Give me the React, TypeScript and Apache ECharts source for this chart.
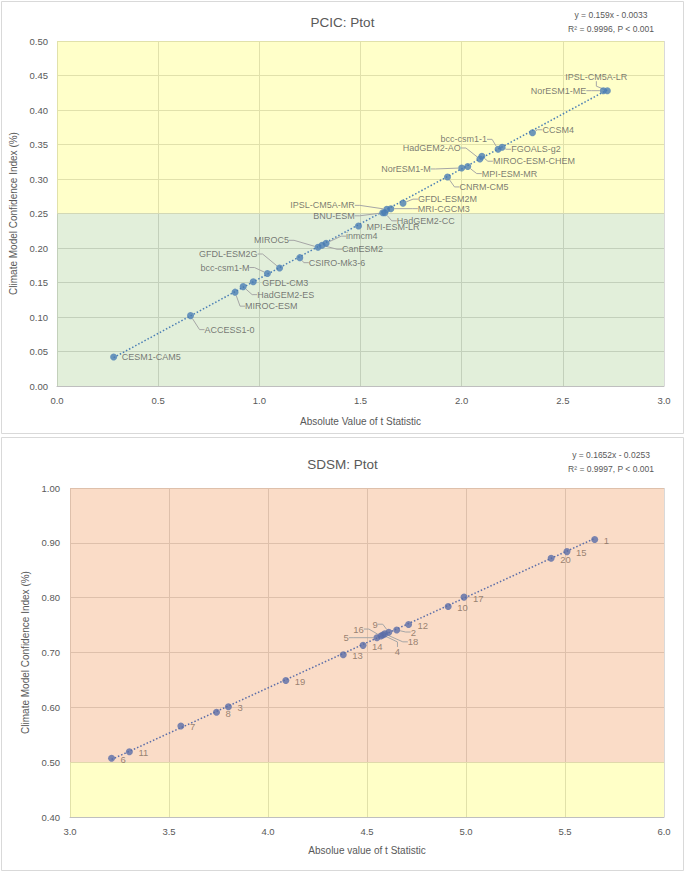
import React, { useEffect, useRef } from "react";
import * as echarts from "echarts";

// ---------- PCIC data ----------
const pcicModels = [
  "CESM1-CAM5", "ACCESS1-0", "MIROC-ESM", "HadGEM2-ES", "GFDL-CM3", "bcc-csm1-M",
  "GFDL-ESM2G", "CSIRO-Mk3-6", "MIROC5", "CanESM2", "inmcm4", "MPI-ESM-LR",
  "BNU-ESM", "HadGEM2-CC", "IPSL-CM5A-MR", "MRI-CGCM3", "GFDL-ESM2M", "CNRM-CM5",
  "NorESM1-M", "MPI-ESM-MR", "HadGEM2-AO", "MIROC-ESM-CHEM", "bcc-csm1-1", "FGOALS-g2",
  "CCSM4", "NorESM1-ME", "IPSL-CM5A-LR",
];
const pcicT = [
  0.28, 0.66, 0.88, 0.92, 0.97, 1.04,
  1.10, 1.20, 1.29, 1.31, 1.33, 1.49,
  1.61, 1.62, 1.63, 1.65, 1.71, 1.93,
  2.00, 2.03, 2.09, 2.10, 2.18, 2.20,
  2.35, 2.70, 2.72,
];
const pcicIndex = [
  0.042, 0.102, 0.136, 0.144, 0.151, 0.163,
  0.171, 0.186, 0.201, 0.204, 0.207, 0.232,
  0.251, 0.251, 0.256, 0.257, 0.265, 0.303,
  0.316, 0.318, 0.329, 0.333, 0.343, 0.346,
  0.367, 0.428, 0.428,
];
const pcicSlope = 0.159;
const pcicIntercept = -0.0033;
const pcicEquation = ["y = 0.159x - 0.0033", "R\u00B2 = 0.9996, P < 0.001"];
const pcicTitle = "PCIC: Ptot";
const pcicXName = "Absolute Value of t Statistic";

// ---------- SDSM data ----------
const sdsmIds = ["1", "2", "3", "4", "5", "6", "7", "8", "9", "10", "11", "12", "13", "14", "15", "16", "17", "18", "19", "20"];
const sdsmT = [5.65, 4.65, 3.80, 4.58, 4.55, 3.21, 3.56, 3.74, 4.61, 4.91, 3.30, 4.71, 4.38, 4.48, 5.51, 4.57, 4.99, 4.59, 4.09, 5.43];
const sdsmIndex = [0.906, 0.741, 0.601, 0.732, 0.727, 0.507, 0.566, 0.591, 0.737, 0.784, 0.519, 0.751, 0.696, 0.713, 0.884, 0.730, 0.801, 0.734, 0.649, 0.872];
const sdsmSlope = 0.1652;
const sdsmIntercept = -0.0253;
const sdsmEquation = ["y = 0.1652x - 0.0253", "R\u00B2 = 0.9997, P < 0.001"];
const sdsmTitle = "SDSM: Ptot";
const sdsmXName = "Absolue value of t Statistic";

const yName = "Climate Model Confidence Index (%)";

// ---------- label placement (pixel offsets from the point: dx, dy, align, leader line) ----------
type Place = [number, number, string, boolean];
const pcicPlace: Record<string, Place> = {
  "CESM1-CAM5": [8, 0, "left", false],
  "ACCESS1-0": [14, 14, "left", true],
  "MIROC-ESM": [10, 14, "left", true],
  "HadGEM2-ES": [14, 8, "left", true],
  "GFDL-CM3": [9, 1, "left", false],
  "bcc-csm1-M": [-18, -6, "right", true],
  "GFDL-ESM2G": [-22, -14, "right", true],
  "CSIRO-Mk3-6": [9, 5, "left", true],
  "MIROC5": [-29, -7, "right", true],
  "CanESM2": [20, 4, "left", true],
  "inmcm4": [20, -7, "left", true],
  "MPI-ESM-LR": [8, 1, "left", false],
  "BNU-ESM": [-28, 3, "right", true],
  "HadGEM2-CC": [12, 8, "left", true],
  "IPSL-CM5A-MR": [-32, -4, "right", true],
  "MRI-CGCM3": [27, 0, "left", true],
  "GFDL-ESM2M": [15, -4, "left", true],
  "CNRM-CM5": [12, 10, "left", true],
  "NorESM1-M": [-31, 1, "right", true],
  "MPI-ESM-MR": [14, 7, "left", true],
  "HadGEM2-AO": [-19, -11, "right", true],
  "MIROC-ESM-CHEM": [11, 5, "left", true],
  "bcc-csm1-1": [-11, -10, "right", true],
  "FGOALS-g2": [9, 2, "left", true],
  "CCSM4": [10, -3, "left", true],
  "NorESM1-ME": [-17, 0, "right", true],
  "IPSL-CM5A-LR": [-11, -14, "center", true],
};
const sdsmPlace: Record<string, Place> = {
  "2": [14, 2, "left", true],
  "4": [12, 17, "left", true],
  "5": [-28, 0, "right", true],
  "9": [-11, -8, "right", true],
  "16": [-17, -7, "right", true],
  "18": [23, 8, "left", true],
};
const sdsmDefaultPlace: Place = [9, 1, "left", false];

const FONT = "'Liberation Sans', Arial, sans-serif";
const TEXT = "#595959";

function buildPoints(xs: number[], ys: number[], names: string[], place: Record<string, Place>, def: Place) {
  return xs.map((x, i) => {
    const p = place[names[i]] || def;
    return { name: names[i], value: [x, ys[i]], labelLine: { show: p[3] } };
  });
}

function trend(xs: number[], slope: number, intercept: number) {
  const lo = Math.min(...xs);
  const hi = Math.max(...xs);
  return [[lo, slope * lo + intercept], [hi, slope * hi + intercept]];
}

function layoutFn(names: string[], place: Record<string, Place>, def: Place) {
  return (params: any) => {
    const p = place[names[params.dataIndex]] || def;
    const r = params.rect;
    return {
      x: r.x + r.width / 2 + p[0],
      y: r.y + r.height / 2 + p[1],
      align: p[2],
      verticalAlign: "middle",
    };
  };
}

export default function App() {
  const ref = useRef<HTMLDivElement>(null);
  useEffect(() => {
    document.body.style.margin = "0";
    const chart = echarts.init(ref.current!, null, { renderer: "svg" });

    const axisLabel = (digits: number) => ({
      color: TEXT,
      fontSize: 9.5,
      fontFamily: FONT,
      formatter: (v: number) => v.toFixed(digits),
    });
    const nameStyle = { color: TEXT, fontSize: 10, fontFamily: FONT };
    const titleStyle = { color: TEXT, fontSize: 13.5, fontWeight: "normal", fontFamily: FONT };
    const eqStyle = { align: "center", verticalAlign: "middle", fill: TEXT, fontSize: 8.5, fontFamily: FONT };

    const option: any = {
      animation: false,
      backgroundColor: "#ffffff",
      title: [
        { text: pcicTitle, left: "center", top: 10, textStyle: titleStyle },
        { text: sdsmTitle, left: "center", top: 452, textStyle: titleStyle },
      ],
      grid: [
        { left: 57, top: 41, width: 607, height: 345 },
        { left: 70, top: 488, width: 594, height: 329 },
      ],
      xAxis: [
        {
          gridIndex: 0, type: "value", min: 0, max: 3, interval: 0.5,
          axisLabel: { ...axisLabel(1), margin: 9 },
          axisLine: { show: true, lineStyle: { color: "#bfbfbf" } },
          axisTick: { show: false },
          splitLine: { show: true, lineStyle: { color: "#d9d9d9" } },
          name: pcicXName, nameLocation: "middle", nameGap: 30, nameTextStyle: nameStyle,
        },
        {
          gridIndex: 1, type: "value", min: 3, max: 6, interval: 0.5,
          axisLabel: { ...axisLabel(1), margin: 9 },
          axisLine: { show: true, lineStyle: { color: "#bfbfbf" } },
          axisTick: { show: false },
          splitLine: { show: true, lineStyle: { color: "#d9d9d9" } },
          name: sdsmXName, nameLocation: "middle", nameGap: 28, nameTextStyle: nameStyle,
        },
      ],
      yAxis: [
        {
          gridIndex: 0, type: "value", min: 0, max: 0.5, interval: 0.05,
          axisLabel: { ...axisLabel(2), margin: 9 },
          axisLine: { show: false },
          axisTick: { show: false },
          splitLine: { show: true, lineStyle: { color: "#d9d9d9" } },
          name: yName, nameLocation: "middle", nameGap: 33, nameTextStyle: nameStyle,
        },
        {
          gridIndex: 1, type: "value", min: 0.4, max: 1.0, interval: 0.1,
          axisLabel: { ...axisLabel(2), margin: 10 },
          axisLine: { show: false },
          axisTick: { show: false },
          splitLine: { show: true, lineStyle: { color: "#d9d9d9" } },
          name: yName, nameLocation: "middle", nameGap: 34, nameTextStyle: nameStyle,
        },
      ],
      graphic: [
        { type: "rect", silent: true, z: -1, shape: { x: 1.5, y: 1.5, width: 682, height: 432 }, style: { fill: "none", stroke: "#d9d9d9", lineWidth: 1 } },
        { type: "rect", silent: true, z: -1, shape: { x: 1.5, y: 437.5, width: 682, height: 433 }, style: { fill: "none", stroke: "#d9d9d9", lineWidth: 1 } },
        { type: "text", x: 611, y: 15, style: { ...eqStyle, text: pcicEquation[0] } },
        { type: "text", x: 611, y: 29, style: { ...eqStyle, text: pcicEquation[1] } },
        { type: "text", x: 611, y: 455, style: { ...eqStyle, text: sdsmEquation[0] } },
        { type: "text", x: 611, y: 469, style: { ...eqStyle, text: sdsmEquation[1] } },
      ],
      series: [
        {
          type: "line", xAxisIndex: 0, yAxisIndex: 0, silent: true,
          data: trend(pcicT, pcicSlope, pcicIntercept),
          showSymbol: false, symbol: "none",
          lineStyle: { color: "#4a7eb5", width: 1.5, type: [1.5, 2] },
          markArea: {
            silent: true,
            data: [
              [{ yAxis: 0.25, itemStyle: { color: "rgba(255,255,0,0.21)" } }, { yAxis: 0.5 }],
              [{ yAxis: 0, itemStyle: { color: "rgba(112,173,71,0.2)" } }, { yAxis: 0.25 }],
            ],
          },
          z: 1,
        },
        {
          type: "scatter", xAxisIndex: 0, yAxisIndex: 0,
          data: buildPoints(pcicT, pcicIndex, pcicModels, pcicPlace, [8, 0, "left", false]),
          symbol: "circle", symbolSize: 7,
          itemStyle: { color: "#4a7db4" },
          label: { show: true, formatter: "{b}", color: TEXT, fontSize: 9, fontFamily: FONT },
          labelLine: { show: true, length2: 5, lineStyle: { color: "#a6a6a6", width: 1 } },
          labelLayout: layoutFn(pcicModels, pcicPlace, [8, 0, "left", false]),
          z: 3,
        },
        {
          type: "line", xAxisIndex: 1, yAxisIndex: 1, silent: true,
          data: trend(sdsmT, sdsmSlope, sdsmIntercept),
          showSymbol: false, symbol: "none",
          lineStyle: { color: "#5a6da8", width: 1.5, type: [1.5, 2] },
          markArea: {
            silent: true,
            data: [
              [{ yAxis: 0.5, itemStyle: { color: "rgba(237,125,49,0.27)" } }, { yAxis: 1.0 }],
              [{ yAxis: 0.4, itemStyle: { color: "rgba(255,255,0,0.22)" } }, { yAxis: 0.5 }],
            ],
          },
          z: 1,
        },
        {
          type: "scatter", xAxisIndex: 1, yAxisIndex: 1,
          data: buildPoints(sdsmT, sdsmIndex, sdsmIds, sdsmPlace, sdsmDefaultPlace),
          symbol: "circle", symbolSize: 7,
          itemStyle: { color: "#5a6da8" },
          label: { show: true, formatter: "{b}", color: "#7f6a5a", fontSize: 9.5, fontFamily: FONT },
          labelLine: { show: true, length2: 5, lineStyle: { color: "#a6a6a6", width: 1 } },
          labelLayout: layoutFn(sdsmIds, sdsmPlace, sdsmDefaultPlace),
          z: 3,
        },
      ],
    };
    chart.setOption(option);
    return () => chart.dispose();
  }, []);
  return <div ref={ref} style={{ width: 685, height: 872 }} />;
}
